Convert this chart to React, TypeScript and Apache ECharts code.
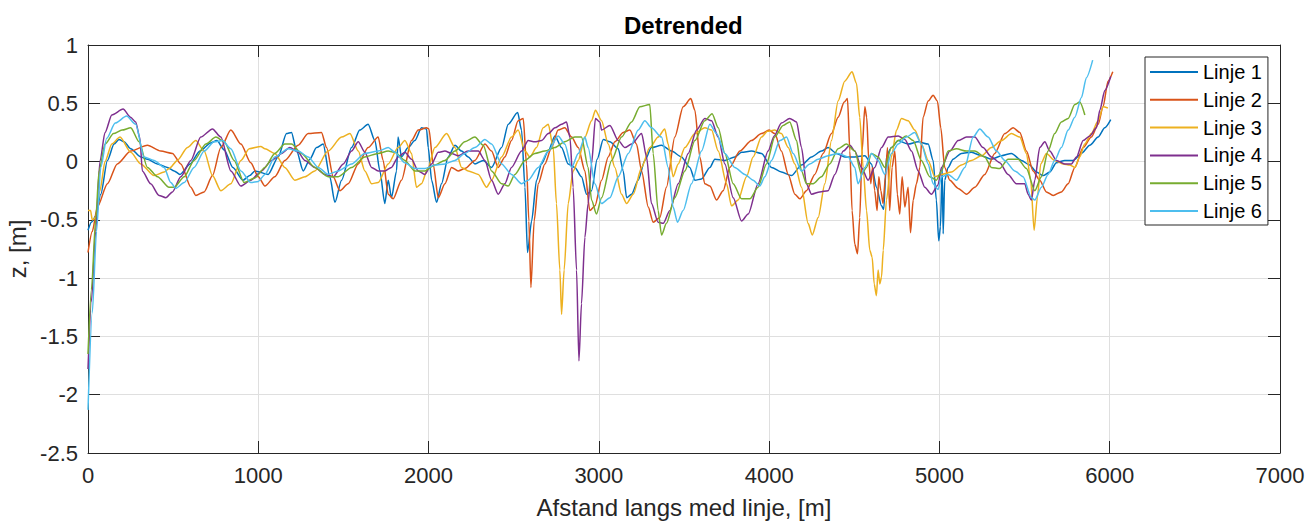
import React, { useEffect, useRef } from "react";
import * as echarts from "echarts";

const seriesNames = ["Linje 1", "Linje 2", "Linje 3", "Linje 4", "Linje 5", "Linje 6"];
const seriesColors = ["#0072BD", "#D95319", "#EDB120", "#7E2F8E", "#77AC30", "#4DBEEE"];
const titleText = "Detrended";
const xAxisName = "Afstand langs med linje, [m]";
const yAxisName = "z, [m]";

const linje1: [number, number][] = [
  [0,-0.59],[20,-0.52],[45,-0.47],[75,-0.28],[114,0.01],[153,0.15],[182,0.19],[212,0.17],[251,0.11],[310,0.04],[349,0.02],[408,-0.02],[466,-0.05],[506,-0.08],[540,-0.11],[600,-0.02],[657,0.09],[720,0.16],[757,0.18],[800,0.1],[851,-0.05],[910,-0.16],[950,-0.12],
  [980,-0.08],[1058,-0.11],[1117,0.04],[1166,0.24],[1195,0.25],[1225,0.09],[1264,-0.08],[1303,0.02],[1342,0.12],[1381,0.15],[1420,-0.13],[1450,-0.35],[1489,-0.16],[1548,0.12],[1596,0.27],[1645,0.32],[1685,0.18],[1714,-0.08],[1743,-0.36],[1763,-0.16],[1782,-0.31],[1812,-0.08],[1821,0.21],[1841,0.04],[1880,0.12],[1919,0.18],[1959,0.29],[1988,0.28],
  [1998,0.12],[2018,-0.16],[2047,-0.35],[2076,-0.19],[2115,0.04],[2155,0.14],[2194,0.09],[2233,0.04],[2272,-0.02],[2321,0.01],[2370,-0.05],[2429,0.12],[2468,0.32],[2523,0.42],[2546,0.27],[2566,-0.22],[2581,-0.78],[2605,-0.51],[2634,-0.16],[2663,-0.02],[2703,0.09],[2742,0.22],[2781,0.12],[2820,-0.02],[2859,-0.05],[2898,-0.13],[2928,-0.28],[2957,-0.25],
  [2990,0.02],[3026,0.19],[3065,0.17],[3114,0.11],[3143,-0.08],[3163,-0.31],[3192,-0.28],[3231,-0.16],[3270,0.01],[3309,0.12],[3368,0.14],[3427,0.09],[3485,0.04],[3534,-0.05],[3564,-0.16],[3603,-0.15],[3652,-0.05],[3681,0.02],[3740,0.01],[3798,0.04],[3838,0.08],[3896,0.09],[3955,0.07],
  [4014,-0.05],[4072,-0.09],[4131,-0.12],[4190,-0.03],[4249,0.04],[4307,0.09],[4346,0.12],[4396,0.07],[4444,0.04],[4503,0.04],[4562,0.05],[4601,-0.02],[4630,-0.22],[4660,-0.38],[4673,-0.41],[4690,0.05],[4718,0.12],[4758,0.18],[4816,0.15],[4875,0.17],[4934,0.15],[4963,0.01],[4982,-0.33],[4996,-0.68],[5006,-0.56],[5016,-0.05],[5022,-0.62],[5031,-0.16],[5051,-0.05],[5080,0.02],[5129,0.07],[5188,0.08],[5247,0.05],[5305,0.02],[5364,0.05],[5423,0.07],[5481,0.01],[5530,-0.03],[5570,-0.09],[5609,-0.12],[5648,-0.09],[5687,-0.01],[5736,0.01],[5785,0.01],[5834,0.07],[5883,0.14],[5932,0.21],[5971,0.29],[6006,0.36]
];

const linje2: [number, number][] = [
  [0,-0.78],[25,-0.6],[55,-0.39],[114,-0.19],[172,-0.02],[251,0.09],[349,0.14],[427,0.09],[496,0.07],[545,-0.02],[604,-0.22],[633,-0.29],[682,-0.26],[731,-0.12],[780,0.12],[839,0.27],[898,0.15],[956,-0.01],[1000,-0.13],[1039,-0.21],[1097,-0.13],[1156,0.01],[1234,0.14],[1293,0.24],[1371,0.25],[1401,0.12],[1440,-0.13],[1479,-0.25],[1528,-0.19],[1587,-0.02],[1645,0.12],[1704,0.21],[1733,0.01],[1763,-0.28],[1792,-0.32],[1841,-0.16],[1900,0.18],[1939,0.27],[1988,0.29],[2002,0.28],[2027,-0.02],[2057,-0.31],[2096,-0.19],[2135,-0.05],[2174,-0.08],[2213,-0.06],[2272,0.01],[2331,0.15],[2370,0.09],[2409,-0.05],[2448,0.04],[2487,0.18],[2526,0.35],[2556,0.37],[2575,-0.02],[2589,-0.51],[2601,-1.08],[2620,-0.51],[2644,-0.19],[2683,-0.02],[2722,0.12],[2761,0.27],[2800,0.29],[2840,0.21],[2879,0.12],[2918,-0.08],[2947,-0.42],[2977,-0.38],[3016,-0.16],[3055,0.04],[3094,0.17],[3143,0.25],[3182,0.27],[3221,0.15],[3251,-0.08],[3290,-0.39],[3319,-0.52],[3358,-0.48],[3397,-0.22],[3446,0.21],[3495,0.47],[3540,0.54],[3564,0.44],[3593,0.04],[3622,-0.19],[3652,-0.21],[3691,-0.33],[3730,-0.25],[3769,-0.05],[3828,0.09],[3896,0.18],[3955,0.24],[4000,0.27],[4033,0.24],[4072,0.09],[4112,-0.11],[4151,-0.28],[4180,-0.32],[4219,-0.25],[4268,-0.11],[4317,0.07],[4366,0.24],[4405,0.38],[4441,0.51],[4460,0.54],[4474,0.09],[4487,-0.42],[4503,-0.71],[4519,-0.79],[4532,-0.48],[4546,0.09],[4562,0.47],[4573,0.38],[4585,0.01],[4597,-0.19],[4607,-0.05],[4620,-0.25],[4634,-0.42],[4644,-0.13],[4656,-0.25],[4669,-0.36],[4683,-0.13],[4695,0.12],[4708,-0.42],[4722,-0.05],[4738,0.09],[4753,-0.28],[4767,-0.45],[4781,-0.13],[4797,-0.39],[4816,-0.22],[4830,-0.61],[4846,-0.33],[4865,-0.19],[4885,-0.05],[4904,0.38],[4934,0.52],[4963,0.57],[4988,0.52],[5008,0.29],[5031,-0.05],[5061,-0.16],[5110,-0.23],[5159,-0.28],[5208,-0.22],[5266,-0.11],[5325,0.07],[5384,0.24],[5433,0.29],[5472,0.25],[5511,0.09],[5550,-0.08],[5589,-0.16],[5628,-0.26],[5668,-0.29],[5716,-0.26],[5756,-0.19],[5795,-0.05],[5844,0.12],[5892,0.21],[5932,0.32],[5961,0.47],[5990,0.69],[6018,0.77]
];

const linje3: [number, number][] = [
  [0,-0.42],[15,-0.42],[25,-0.5],[45,-0.48],[70,-0.25],[100,0.0],[140,0.15],[188,0.21],[251,0.08],[310,-0.02],[388,-0.12],[447,-0.09],[476,-0.06],[525,0.01],[584,0.12],[633,0.18],[682,0.09],[731,-0.12],[780,-0.25],[839,-0.19],[898,0.01],[947,0.11],[1015,0.13],[1039,0.11],[1097,0.07],[1156,-0.05],[1215,-0.16],[1274,-0.13],[1332,-0.08],[1410,0.09],[1489,0.21],[1538,0.24],[1587,0.09],[1626,-0.08],[1665,-0.19],[1704,-0.18],[1763,-0.02],[1821,0.12],[1861,0.18],[1900,0.07],[1929,-0.22],[1958,-0.19],[1998,-0.05],[2037,0.12],[2106,0.24],[2155,0.12],[2194,-0.05],[2233,-0.08],[2292,-0.11],[2341,-0.22],[2370,-0.16],[2429,0.04],[2487,0.21],[2526,0.27],[2566,0.09],[2595,0.04],[2634,0.12],[2673,0.29],[2703,0.32],[2732,0.12],[2751,-0.36],[2771,-0.93],[2781,-1.31],[2796,-0.93],[2820,-0.36],[2849,-0.08],[2879,0.01],[2918,0.21],[2957,0.35],[2980,0.44],[3016,0.35],[3055,0.15],[3094,-0.05],[3133,-0.28],[3163,-0.36],[3202,-0.28],[3251,-0.05],[3299,0.12],[3348,0.21],[3387,0.28],[3407,0.15],[3436,-0.13],[3466,-0.02],[3505,0.12],[3564,0.24],[3622,0.29],[3662,0.27],[3701,0.09],[3750,-0.19],[3779,-0.38],[3818,-0.33],[3867,-0.13],[3906,0.04],[3955,0.21],[3990,0.26],[4033,0.27],[4072,0.24],[4112,0.12],[4151,-0.02],[4190,-0.22],[4229,-0.53],[4253,-0.63],[4288,-0.48],[4327,-0.19],[4366,0.18],[4405,0.52],[4444,0.69],[4487,0.77],[4513,0.67],[4532,0.38],[4552,-0.05],[4572,-0.42],[4591,-0.76],[4605,-0.82],[4617,-1.05],[4630,-1.15],[4640,-0.93],[4650,-1.05],[4660,-0.99],[4670,-0.76],[4689,-0.33],[4718,0.04],[4748,0.27],[4777,0.37],[4816,0.35],[4855,0.27],[4894,0.15],[4934,0.01],[4973,-0.13],[5012,-0.11],[5071,-0.09],[5129,-0.03],[5188,0.01],[5247,0.05],[5305,0.12],[5364,0.18],[5423,0.24],[5472,0.21],[5511,0.07],[5536,-0.16],[5556,-0.59],[5575,-0.31],[5595,-0.02],[5628,0.07],[5677,0.01],[5726,-0.02],[5765,-0.03],[5795,-0.05],[5824,0.04],[5853,0.15],[5892,0.24],[5932,0.35],[5961,0.47],[5989,0.46]
];

const linje4: [number, number][] = [
  [0,-1.78],[20,-1.2],[45,-0.6],[70,0.0],[100,0.25],[140,0.4],[206,0.45],[250,0.38],[280,0.34],[305,0.2],[319,-0.08],[368,-0.19],[417,-0.29],[457,-0.31],[496,-0.26],[545,-0.13],[604,0.01],[662,0.21],[731,0.28],[780,0.21],[839,-0.08],[898,-0.21],[956,-0.16],[1005,-0.1],[1019,-0.08],[1078,0.01],[1137,0.07],[1185,0.12],[1234,0.08],[1274,0.01],[1332,-0.05],[1391,-0.11],[1440,-0.13],[1499,-0.02],[1548,0.09],[1587,0.17],[1626,0.08],[1665,-0.05],[1704,-0.08],[1743,-0.08],[1782,-0.05],[1821,0.04],[1861,0.08],[1900,0.02],[1939,-0.08],[1978,-0.11],[2018,-0.02],[2057,0.08],[2096,0.09],[2135,0.07],[2174,0.05],[2233,0.09],[2292,0.09],[2331,0.01],[2370,-0.16],[2409,-0.28],[2448,-0.19],[2487,-0.05],[2546,0.09],[2585,0.18],[2624,0.17],[2663,0.18],[2703,0.24],[2742,0.29],[2781,0.32],[2810,0.34],[2830,0.21],[2849,-0.22],[2869,-0.93],[2883,-1.71],[2898,-1.22],[2918,-0.65],[2937,-0.36],[2957,-0.02],[2980,0.37],[3006,0.34],[3016,0.27],[3065,0.31],[3114,0.18],[3153,0.12],[3192,0.15],[3251,0.24],[3280,0.04],[3309,-0.36],[3348,-0.52],[3378,-0.53],[3417,-0.42],[3466,-0.19],[3525,0.07],[3574,0.27],[3622,0.37],[3662,0.35],[3701,0.21],[3740,-0.02],[3789,-0.31],[3838,-0.51],[3877,-0.45],[3935,-0.19],[3994,0.09],[4030,0.22],[4072,0.33],[4121,0.37],[4161,0.34],[4190,0.12],[4219,-0.19],[4249,-0.28],[4297,-0.26],[4346,-0.25],[4386,-0.11],[4435,0.09],[4474,0.14],[4503,0.09],[4542,-0.05],[4581,-0.16],[4620,-0.05],[4660,0.12],[4699,0.21],[4758,0.22],[4797,0.19],[4836,0.09],[4875,-0.08],[4914,-0.22],[4953,-0.28],[4992,-0.2],[5012,-0.05],[5061,0.09],[5110,0.18],[5159,0.21],[5208,0.21],[5256,0.12],[5305,0.04],[5354,-0.01],[5403,-0.11],[5452,-0.19],[5501,-0.19],[5521,-0.28],[5540,-0.33],[5560,-0.16],[5589,0.12],[5619,0.17],[5648,0.09],[5687,0.01],[5736,-0.02],[5775,-0.02],[5805,0.04],[5844,0.18],[5883,0.22],[5922,0.29],[5942,0.44],[5971,0.61],[6006,0.73]
];

const linje5: [number, number][] = [
  [0,-1.65],[20,-1.1],[45,-0.5],[65,-0.08],[100,0.15],[150,0.24],[200,0.27],[251,0.29],[300,0.17],[349,-0.05],[408,-0.13],[476,-0.22],[506,-0.22],[565,-0.13],[623,0.01],[692,0.15],[751,0.21],[800,0.17],[858,0.01],[917,-0.18],[980,-0.14],[1039,-0.05],[1097,0.07],[1156,0.15],[1195,0.15],[1254,0.07],[1332,-0.05],[1410,-0.13],[1469,-0.13],[1548,-0.05],[1626,0.04],[1704,0.07],[1763,0.09],[1802,0.08],[1861,0.01],[1919,-0.08],[1978,-0.08],[2037,-0.03],[2096,0.01],[2155,0.09],[2213,0.17],[2272,0.21],[2321,0.14],[2370,-0.08],[2429,-0.19],[2468,-0.21],[2507,-0.11],[2566,0.01],[2624,0.07],[2683,0.09],[2742,0.12],[2800,0.17],[2859,0.21],[2898,0.21],[2937,-0.05],[2957,-0.33],[2986,-0.45],[3016,-0.31],[3075,0.01],[3133,0.21],[3192,0.34],[3241,0.47],[3299,0.49],[3319,0.07],[3348,-0.42],[3368,-0.63],[3397,-0.53],[3446,-0.31],[3505,-0.08],[3564,0.18],[3622,0.35],[3665,0.41],[3701,0.29],[3740,0.07],[3789,-0.19],[3838,-0.32],[3887,-0.32],[3935,-0.22],[3984,-0.02],[4033,0.21],[4082,0.31],[4121,0.34],[4161,0.18],[4190,-0.08],[4219,-0.19],[4258,-0.19],[4307,-0.13],[4356,-0.02],[4405,0.11],[4454,0.15],[4503,0.09],[4542,-0.11],[4572,-0.05],[4601,0.07],[4640,0.04],[4679,-0.05],[4718,0.12],[4758,0.18],[4806,0.22],[4846,0.18],[4894,0.01],[4943,-0.13],[4982,-0.16],[5012,-0.08],[5051,0.09],[5100,0.11],[5159,0.09],[5208,0.09],[5266,0.04],[5305,-0.05],[5354,-0.06],[5403,0.02],[5462,0.02],[5511,-0.06],[5560,-0.25],[5599,-0.13],[5638,0.09],[5677,0.24],[5716,0.34],[5756,0.37],[5795,0.49],[5824,0.51],[5854,0.40]
];

const linje6: [number, number][] = [
  [0,-2.13],[25,-1.3],[50,-0.6],[75,-0.05],[110,0.2],[160,0.33],[227,0.39],[280,0.32],[329,0.04],[388,0.01],[447,-0.05],[486,-0.18],[515,-0.23],[565,-0.18],[623,-0.05],[682,0.09],[741,0.17],[790,0.18],[839,0.11],[898,-0.08],[956,-0.18],[1000,-0.17],[1039,-0.11],[1097,0.04],[1176,0.11],[1234,0.09],[1293,0.04],[1352,-0.05],[1410,-0.11],[1469,-0.08],[1548,-0.02],[1626,0.07],[1704,0.09],[1763,0.12],[1802,0.08],[1861,-0.01],[1919,-0.06],[1978,-0.06],[2037,-0.03],[2096,-0.02],[2155,0.01],[2213,0.07],[2272,0.12],[2331,0.19],[2370,0.15],[2429,-0.02],[2487,-0.11],[2546,-0.19],[2585,-0.16],[2644,-0.05],[2703,0.09],[2761,0.22],[2800,0.15],[2840,-0.05],[2879,0.07],[2918,0.21],[2937,0.12],[2977,-0.19],[3016,-0.36],[3065,-0.31],[3114,-0.13],[3173,0.07],[3231,0.27],[3270,0.35],[3309,0.29],[3368,0.21],[3407,-0.05],[3436,-0.39],[3462,-0.52],[3495,-0.42],[3544,-0.19],[3603,0.09],[3652,0.32],[3691,0.24],[3740,0.07],[3798,-0.05],[3857,-0.11],[3906,-0.16],[3945,-0.21],[3975,-0.13],[4014,0.01],[4063,0.18],[4102,0.21],[4141,0.07],[4190,-0.08],[4239,-0.02],[4288,0.02],[4346,0.05],[4405,0.07],[4464,0.04],[4503,-0.05],[4522,-0.19],[4562,-0.05],[4601,0.07],[4640,0.01],[4679,-0.11],[4718,0.07],[4758,0.15],[4806,0.21],[4855,0.25],[4894,0.15],[4934,-0.02],[4963,-0.19],[4992,-0.24],[5012,-0.13],[5051,-0.11],[5100,-0.16],[5149,-0.05],[5198,0.21],[5237,0.28],[5286,0.21],[5335,0.09],[5384,0.01],[5442,-0.08],[5491,-0.13],[5540,-0.31],[5560,-0.33],[5599,-0.22],[5638,-0.11],[5677,0.01],[5716,0.12],[5756,0.27],[5795,0.38],[5834,0.55],[5863,0.72],[5900,0.87]
];

const allSeries = [linje1, linje2, linje3, linje4, linje5, linje6];

const FONT = '"Liberation Sans", Arial, Helvetica, sans-serif';
const AXIS_COLOR = "#262626";
const GRID_COLOR = "#dfdfdf";

export default function App() {
  const ref = useRef<HTMLDivElement>(null);

  useEffect(() => {
    if (!ref.current) return;
    const chart = echarts.init(ref.current, null, { renderer: "svg" });

    const boxAxis = {
      type: "value",
      axisLine: { show: true, onZero: false, lineStyle: { color: AXIS_COLOR, width: 1 } },
      axisTick: { show: true, inside: true, length: 12, lineStyle: { color: AXIS_COLOR, width: 1 } },
      axisLabel: { show: false },
      splitLine: { show: false },
    };

    const plain = (v: number) => String(v);

    chart.setOption({
      animation: false,
      textStyle: { fontFamily: FONT },
      title: {
        text: titleText,
        left: 624,
        top: 13,
        padding: 0,
        textStyle: { fontFamily: FONT, fontSize: 24, fontWeight: "bold", color: "#000000" },
      },
      legend: {
        orient: "vertical",
        left: 1145,
        top: 57,
        padding: [5, 6, 4, 5],
        icon: "rect",
        itemWidth: 48,
        itemHeight: 2,
        itemGap: 7.8,
        backgroundColor: "#ffffff",
        borderColor: AXIS_COLOR,
        borderWidth: 1,
        borderRadius: 0,
        textStyle: { fontFamily: FONT, fontSize: 20, color: "#000000", padding: [0, 0, 0, 0] },
        data: seriesNames,
      },
      grid: { left: 88, right: 29, top: 45, bottom: 69, containLabel: false, outerBoundsMode: "none" },
      xAxis: [
        {
          type: "value",
          position: "bottom",
          min: 0,
          max: 7000,
          interval: 1000,
          name: xAxisName,
          nameLocation: "middle",
          nameGap: 42,
          nameTextStyle: { fontFamily: FONT, fontSize: 24, color: AXIS_COLOR },
          axisLine: { show: true, onZero: false, lineStyle: { color: AXIS_COLOR, width: 1 } },
          axisTick: { show: true, inside: true, length: 12, lineStyle: { color: AXIS_COLOR, width: 1 } },
          axisLabel: { show: true, margin: 11, fontFamily: FONT, fontSize: 22, color: AXIS_COLOR, formatter: plain },
          splitLine: { show: true, lineStyle: { color: GRID_COLOR, width: 1 } },
        },
        { ...boxAxis, position: "top", min: 0, max: 7000, interval: 1000 },
      ],
      yAxis: [
        {
          type: "value",
          position: "left",
          min: -2.5,
          max: 1,
          interval: 0.5,
          name: yAxisName,
          nameLocation: "middle",
          nameGap: 55,
          nameTextStyle: { fontFamily: FONT, fontSize: 24, color: AXIS_COLOR },
          axisLine: { show: true, onZero: false, lineStyle: { color: AXIS_COLOR, width: 1 } },
          axisTick: { show: true, inside: true, length: 12, lineStyle: { color: AXIS_COLOR, width: 1 } },
          axisLabel: { show: true, margin: 10, fontFamily: FONT, fontSize: 22, color: AXIS_COLOR, formatter: plain },
          splitLine: { show: true, lineStyle: { color: GRID_COLOR, width: 1 } },
        },
        { ...boxAxis, position: "right", min: -2.5, max: 1, interval: 0.5 },
      ],
      series: allSeries.map((d, i) => ({
        type: "line",
        name: seriesNames[i],
        data: d,
        xAxisIndex: 0,
        yAxisIndex: 0,
        symbol: "none",
        showSymbol: false,
        smooth: 0.25,
        smoothMonotone: "x",
        clip: true,
        color: seriesColors[i],
        lineStyle: { color: seriesColors[i], width: 1.5 },
        itemStyle: { color: seriesColors[i] },
        emphasis: { disabled: true },
      })),
    });

    return () => chart.dispose();
  }, []);

  return (
    <div
      ref={ref}
      style={{ position: "fixed", left: 0, top: 0, width: 1309, height: 522, background: "#ffffff" }}
    />
  );
}
